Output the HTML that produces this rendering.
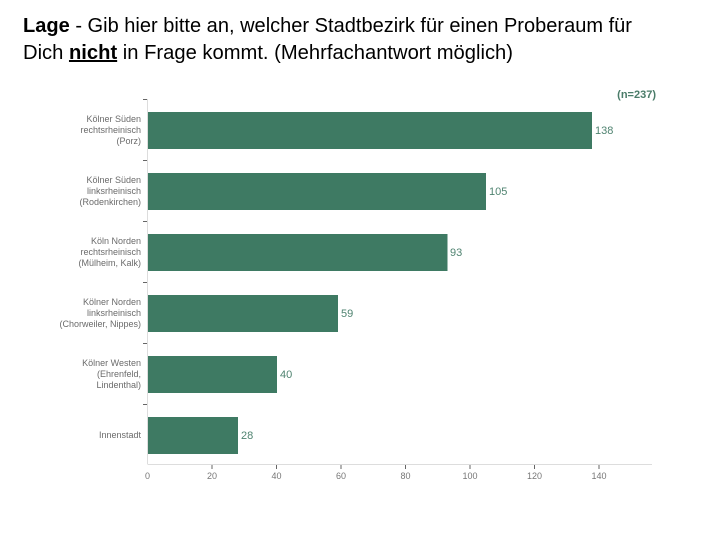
<!DOCTYPE html>
<html><head><meta charset="utf-8"><style>
html,body{margin:0;padding:0;background:#fff;}
svg{display:block;}
</style></head><body>
<svg width="720" height="540" viewBox="0 0 720 540" xmlns="http://www.w3.org/2000/svg">
<rect width="720" height="540" fill="#fff"/>
<g font-family="Liberation Sans, sans-serif" fill="#000" font-size="20">
<text x="23" y="32" textLength="609" lengthAdjust="spacingAndGlyphs"><tspan font-weight="bold">Lage</tspan> - Gib hier bitte an, welcher Stadtbezirk für einen Proberaum für</text>
<text x="23" y="59" textLength="490" lengthAdjust="spacingAndGlyphs">Dich <tspan font-weight="bold" text-decoration="underline">nicht</tspan> in Frage kommt. (Mehrfachantwort möglich)</text>
</g>
<text x="656" y="98" font-family="Liberation Sans, sans-serif" font-size="11" font-weight="bold" fill="#4a7c69" text-anchor="end">(n=237)</text>
<!-- axes -->
<line x1="147.5" y1="99" x2="147.5" y2="464" stroke="#ddd" stroke-width="1"/>
<line x1="147.5" y1="464.5" x2="652" y2="464.5" stroke="#ddd" stroke-width="1"/>
<g stroke="#666" stroke-width="1">
<line x1="143" y1="99.5" x2="147" y2="99.5"/>
<line x1="143" y1="160.5" x2="147" y2="160.5"/>
<line x1="143" y1="221.5" x2="147" y2="221.5"/>
<line x1="143" y1="282.5" x2="147" y2="282.5"/>
<line x1="143" y1="343.5" x2="147" y2="343.5"/>
<line x1="143" y1="404.5" x2="147" y2="404.5"/>
<line x1="212" y1="465" x2="212" y2="469"/>
<line x1="276.5" y1="465" x2="276.5" y2="469"/>
<line x1="341" y1="465" x2="341" y2="469"/>
<line x1="405.5" y1="465" x2="405.5" y2="469"/>
<line x1="470" y1="465" x2="470" y2="469"/>
<line x1="534.5" y1="465" x2="534.5" y2="469"/>
<line x1="599" y1="465" x2="599" y2="469"/>
</g>
<g font-family="Liberation Sans, sans-serif" font-size="9" fill="#777" text-anchor="middle">
<text x="147.5" y="479">0</text>
<text x="212" y="479">20</text>
<text x="276.5" y="479">40</text>
<text x="341" y="479">60</text>
<text x="405.5" y="479">80</text>
<text x="470" y="479">100</text>
<text x="534.5" y="479">120</text>
<text x="599" y="479">140</text>
</g>
<!-- bars -->
<g fill="#3e7a63">
<rect x="148" y="112" width="444" height="37"/>
<rect x="148" y="173" width="338" height="37"/>
<rect x="148" y="234" width="299.5" height="37"/>
<rect x="148" y="295" width="190" height="37"/>
<rect x="148" y="356" width="129" height="37"/>
<rect x="148" y="417" width="90" height="37"/>
</g>
<g font-family="Liberation Sans, sans-serif" font-size="11" fill="#4f8370">
<text x="595" y="134">138</text>
<text x="489" y="195">105</text>
<text x="450" y="256">93</text>
<text x="341" y="317">59</text>
<text x="280" y="378">40</text>
<text x="241" y="439">28</text>
</g>
<g font-family="Liberation Sans, sans-serif" font-size="9" fill="#6b6b6b" text-anchor="end">
<text x="141" y="122">Kölner Süden</text>
<text x="141" y="133">rechtsrheinisch</text>
<text x="141" y="144">(Porz)</text>
<text x="141" y="183">Kölner Süden</text>
<text x="141" y="194">linksrheinisch</text>
<text x="141" y="205">(Rodenkirchen)</text>
<text x="141" y="244">Köln Norden</text>
<text x="141" y="255">rechtsrheinisch</text>
<text x="141" y="266">(Mülheim, Kalk)</text>
<text x="141" y="305">Kölner Norden</text>
<text x="141" y="316">linksrheinisch</text>
<text x="141" y="327">(Chorweiler, Nippes)</text>
<text x="141" y="366">Kölner Westen</text>
<text x="141" y="377">(Ehrenfeld,</text>
<text x="141" y="388">Lindenthal)</text>
<text x="141" y="438">Innenstadt</text>
</g>
</svg>
</body></html>
